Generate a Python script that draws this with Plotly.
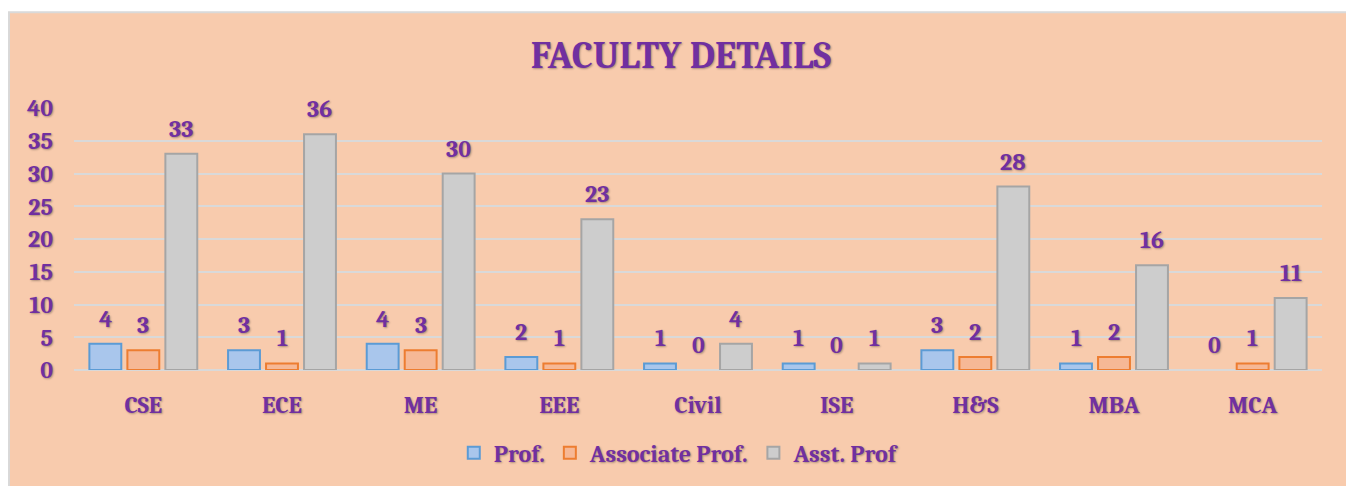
import plotly.graph_objects as go

categories = ["CSE", "ECE", "ME", "EEE", "Civil", "ISE", "H&S", "MBA", "MCA"]
series_names = ["Prof.", "Associate Prof.", "Asst. Prof"]
prof = [4, 3, 4, 2, 1, 1, 3, 1, 0]
assoc = [3, 1, 3, 1, 0, 0, 2, 2, 1]
asst = [33, 36, 30, 23, 4, 1, 28, 16, 11]
y_ticks = [0, 5, 10, 15, 20, 25, 30, 35, 40]

PURPLE = "#7030A0"
FONT = "Cambria, 'Liberation Serif', serif"
SHADOW = "1px 1px 2px rgba(0,0,0,0.30)"
fills = ["#A9C6EC", "#F6B896", "#CDCDCD"]
edges = ["#5B9BD5", "#ED7D31", "#A5A5A5"]
values = [prof, assoc, asst]

bar_w = 0.23
slot = 0.274
centers = [-slot, 0.0, slot]
idx = list(range(len(categories)))

fig = go.Figure()
annotations = []
for k in range(3):
    fig.add_trace(go.Bar(
        x=idx, y=values[k], name=series_names[k],
        width=bar_w, offset=centers[k] - bar_w / 2,
        marker=dict(color=fills[k],
                    line=dict(color=edges[k], width=[0 if v == 0 else 2 for v in values[k]])),
    ))
    for i, v in zip(idx, values[k]):
        annotations.append(dict(
            x=i + centers[k], y=v, xref="x", yref="y", text=str(v),
            showarrow=False, yanchor="bottom", yshift=9,
            font=dict(family=FONT, size=24, color=PURPLE, weight="bold", shadow=SHADOW),
        ))

fig.update_layout(
    width=1346, height=478,
    margin=dict(l=66, r=32, t=100, b=115),
    paper_bgcolor="white",
    plot_bgcolor="rgba(0,0,0,0)",
    barmode="overlay",
    title=dict(text="FACULTY DETAILS", x=0.5, xanchor="center", y=1 - 47 / 478, yanchor="middle",
               font=dict(family=FONT, size=38, color=PURPLE, weight="bold", shadow=SHADOW)),
    xaxis=dict(tickmode="array", tickvals=idx, ticktext=categories, range=[-0.5, len(categories) - 0.5],
               showgrid=False, zeroline=False, showline=False, ticks="", ticklabelstandoff=18,
               tickfont=dict(family=FONT, size=24, color=PURPLE, weight="bold", shadow=SHADOW)),
    yaxis=dict(range=[0, 40], tickvals=y_ticks, showgrid=True, gridcolor="#D9D9D9", gridwidth=2,
               zeroline=True, zerolinecolor="#D9D9D9", zerolinewidth=2, showline=False, ticks="",
               ticklabelstandoff=20,
               tickfont=dict(family=FONT, size=24, color=PURPLE, weight="bold", shadow=SHADOW)),
    legend=dict(orientation="h", x=0.485, xanchor="center", y=-0.312, yanchor="middle",
                bgcolor="rgba(0,0,0,0)",
                font=dict(family=FONT, size=24, color=PURPLE, weight="bold", shadow=SHADOW)),
    annotations=annotations,
    shapes=[dict(type="rect", xref="paper", yref="paper", x0=-0.0521, x1=1.0224, y0=-0.45, y1=1.365,
                 fillcolor="#F8CBAD", line=dict(color="#D9D9D9", width=2), layer="below")],
)

fig.write_html("out.html")
